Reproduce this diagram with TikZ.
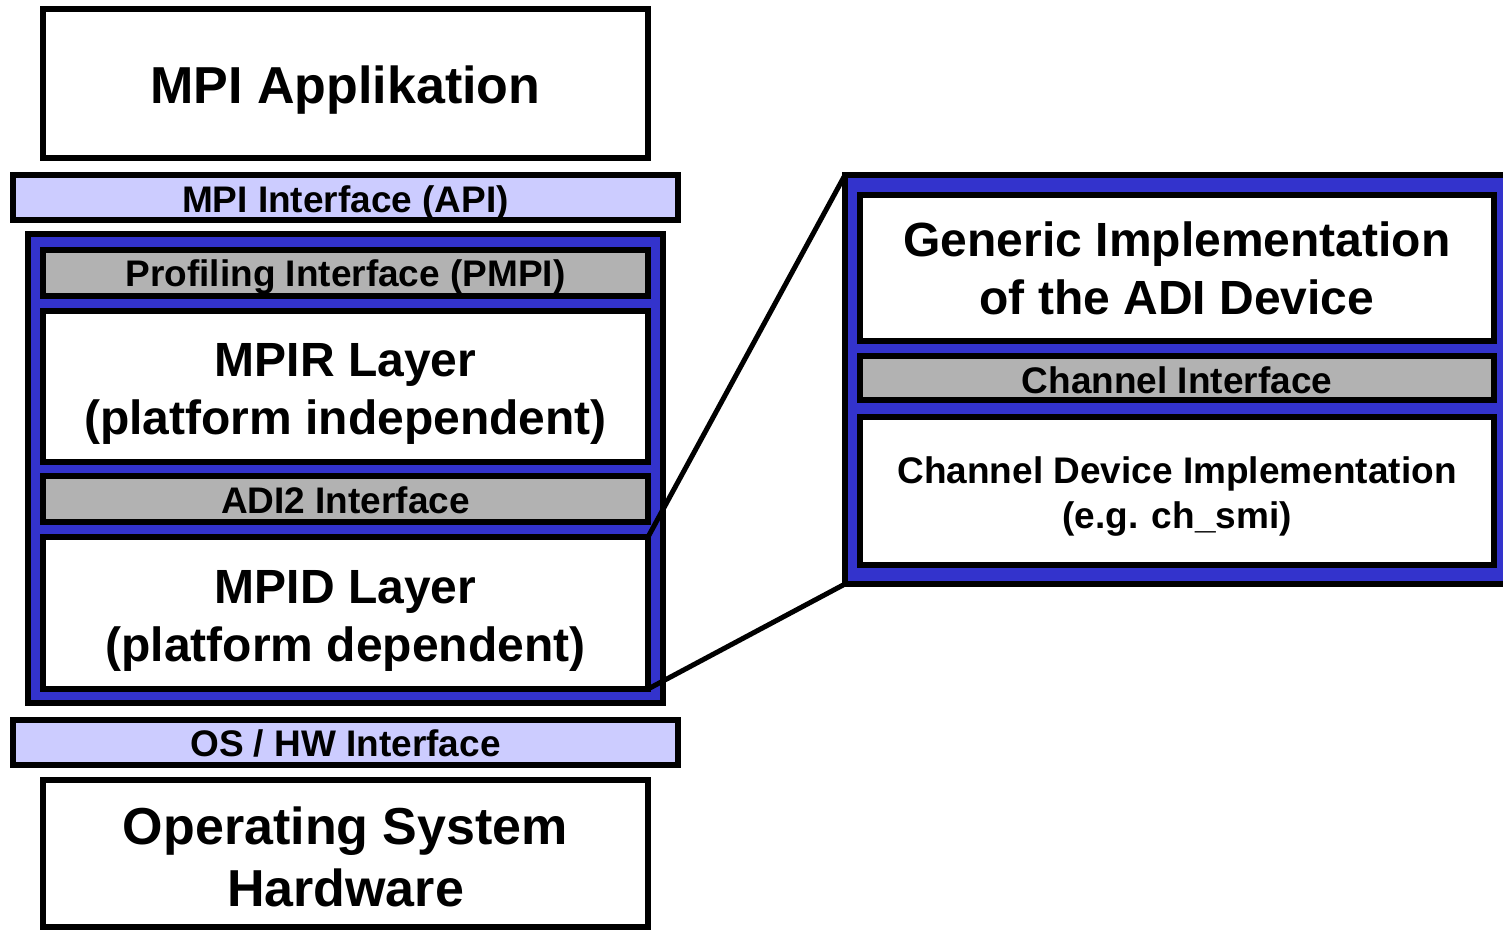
\documentclass[tikz,border=0pt]{standalone}
\usepackage{fontspec}
\setmainfont{Liberation Sans}
\definecolor{frameblue}{HTML}{3333CC}
\definecolor{lav}{HTML}{CCCCFF}
\definecolor{bargray}{HTML}{B2B2B2}
\begin{document}
\begin{tikzpicture}[x=0.5pt,y=-0.5pt,
  base/.style={draw=black, line width=2.9pt, rectangle, inner sep=0pt, outer sep=0pt},
  sz/.style 2 args={minimum width=#1*0.5pt, minimum height=#2*0.5pt},
  whitebox/.style={base, fill=white},
  apibar/.style={base, fill=lav},
  graybar/.style={base, fill=bargray},
  blueframe/.style={base, fill=frameblue},
  tbig/.style={align=center, inner sep=0pt, font=\bfseries\fontsize{26}{31}\selectfont},
  tlayer/.style={align=center, inner sep=0pt, font=\bfseries\fontsize{24}{29}\selectfont},
  tsmall/.style={align=center, inner sep=0pt, font=\bfseries\fontsize{18.5}{22.5}\selectfont},
  conn/.style={draw=black, line width=2.5pt}]
\clip (0,0) rectangle (1503,930);
\fill[white] (0,0) rectangle (1503,930);
% left stack
\node[whitebox, sz={605}{149}, label={[tbig, name=appt, yshift=-3.5pt]center:MPI Applikation}] (app) at (345.5,83.5) {};
\node[apibar, sz={665}{45}, label={[tsmall, name=apit, yshift=-2.5pt]center:MPI Interface (API)}] (api) at (345.5,197.5) {};
\node[blueframe, sz={635}{469}] (lframe) at (345.5,468.5) {};
\node[graybar, sz={605}{46}, label={[tsmall, name=pmpit, yshift=-2pt]center:Profiling Interface (PMPI)}] (pmpi) at (345.5,273) {};
\node[whitebox, sz={605}{151}, label={[tlayer, name=mpirt, yshift=-3.5pt]center:{MPIR Layer\\(platform independent)}}] (mpir) at (345.5,386.5) {};
\node[graybar, sz={605}{46}, label={[tsmall, name=adit, yshift=-0.5pt]center:ADI2 Interface}] (adi) at (345.5,499) {};
\node[whitebox, sz={605}{152}, label={[tlayer, name=mpidt, yshift=-4pt]center:{MPID Layer\\(platform dependent)}}] (mpid) at (345.5,613) {};
\node[apibar, sz={665}{45}, label={[tsmall, name=oshwt, yshift=-0.5pt]center:OS / HW Interface}] (oshw) at (345.5,742.5) {};
\node[whitebox, sz={605}{147}, label={[tbig, name=ost, yshift=-1.5pt]center:{Operating System\\Hardware}}] (os) at (345.5,853.5) {};
% right panel
\node[blueframe, sz={661}{409}] (rframe) at (1175.5,379.5) {};
\node[whitebox, sz={634}{146}, label={[tlayer, name=gent]center:{Generic Implementation\\of the ADI Device}}] (gen) at (1177,268) {};
\node[graybar, sz={634}{44}, label={[tsmall, name=chift, yshift=-1pt]center:Channel Interface}] (chif) at (1177,378) {};
\node[whitebox, sz={634}{148}, label={[tsmall, name=chdevt, yshift=-3pt]center:{Channel Device Implementation\\(e.g. ch\_smi)}}] (chdev) at (1177,491) {};
% connectors
\draw[conn] (mpid.north east) -- (rframe.north west);
\draw[conn] (mpid.south east) -- (rframe.south west);
\end{tikzpicture}
\end{document}
